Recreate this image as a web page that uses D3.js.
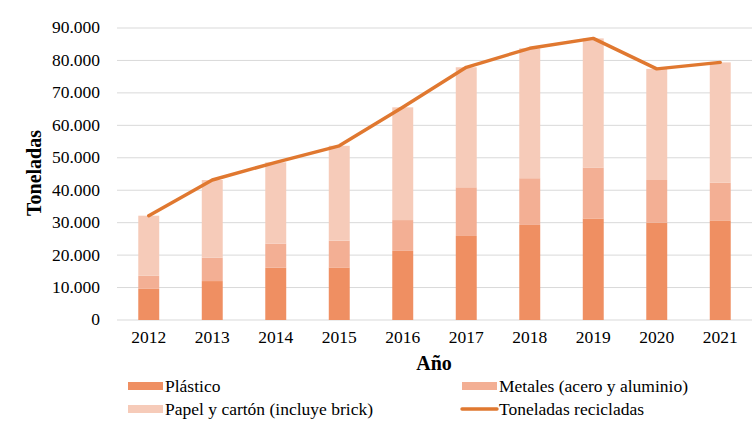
<!DOCTYPE html>
<html>
<head>
<meta charset="utf-8">
<script src="https://cdn.jsdelivr.net/npm/d3@7"></script>
<style>
  body { margin: 0; background: #fff; }
</style>
</head>
<body>
<div id="chart"></div>
<script>
const years = ["2012", "2013", "2014", "2015", "2016", "2017", "2018", "2019", "2020", "2021"];
const plastico = [9600, 12000, 16100, 16200, 21300, 25900, 29300, 31300, 30000, 30700];
const metales = [4050, 7200, 7400, 8250, 9500, 15000, 14400, 15700, 13150, 11600];
const papel = [18500, 23950, 25100, 29250, 34750, 37000, 40050, 39800, 34250, 37100];
const recicladas = [32150, 43150, 48600, 53700, 65550, 77900, 83750, 86800, 77400, 79400];
const yTicks = [0, 10000, 20000, 30000, 40000, 50000, 60000, 70000, 80000, 90000];

const series = [
  { name: "Plástico", values: plastico, color: "#EF8F62" },
  { name: "Metales (acero y aluminio)", values: metales, color: "#F3AF94" },
  { name: "Papel y cartón (incluye brick)", values: papel, color: "#F6CBB9" }
];
const lineColor = "#E07830";
const FONT = "'Liberation Serif', 'Times New Roman', serif";

const svgWidth = 754, svgHeight = 433;
const chartMargin = { top: 28, right: 2, bottom: 113, left: 117 };
const chartWidth = svgWidth - chartMargin.left - chartMargin.right;
const chartHeight = svgHeight - chartMargin.top - chartMargin.bottom;

const svg = d3.select("#chart").append("svg")
  .attr("width", svgWidth).attr("height", svgHeight);
const g = svg.append("g")
  .attr("transform", `translate(${chartMargin.left},${chartMargin.top})`);

const locale = d3.formatLocale({ decimal: ",", thousands: ".", grouping: [3], currency: ["", ""] });
const fmt = locale.format(",d");

const x = d3.scaleBand().domain(years).range([0, chartWidth]).paddingInner(0.67).paddingOuter(0.335);
const y = d3.scaleLinear().domain([0, 90000]).range([chartHeight, 0]);

// grid
g.append("g").selectAll("line").data(yTicks).enter().append("line")
  .attr("x1", 0).attr("x2", chartWidth)
  .attr("y1", d => y(d)).attr("y2", d => y(d))
  .attr("stroke", "#d9d9d9").attr("stroke-width", 1);

// y axis labels
const yAxis = g.append("g")
  .call(d3.axisLeft(y).tickValues(yTicks).tickFormat(d => fmt(d)).tickSize(0).tickPadding(17));
yAxis.select(".domain").remove();
yAxis.selectAll("text").attr("dy", "0.28em")
  .style("font-size", "17.5px").style("font-family", FONT).style("fill", "#000");

// x axis labels
const xAxis = g.append("g").attr("transform", `translate(0,${chartHeight})`)
  .call(d3.axisBottom(x).tickSize(0).tickPadding(11));
xAxis.select(".domain").remove();
xAxis.selectAll("text").style("font-size", "17.5px").style("font-family", FONT).style("fill", "#000");

// stacked bars
const stackData = years.map((yr, i) => {
  const o = { year: yr };
  series.forEach(s => { o[s.name] = s.values[i]; });
  return o;
});
const stacked = d3.stack().keys(series.map(s => s.name))(stackData);
g.append("g").selectAll("g").data(stacked).enter().append("g")
  .attr("fill", (d, i) => series[i].color)
  .selectAll("rect").data(d => d).enter().append("rect")
  .attr("x", d => x(d.data.year))
  .attr("width", x.bandwidth())
  .attr("y", d => y(d[1]))
  .attr("height", d => y(d[0]) - y(d[1]));

// line
const line = d3.line()
  .x((d, i) => x(years[i]) + x.bandwidth() / 2)
  .y(d => y(d));
g.append("path").datum(recicladas)
  .attr("d", line)
  .attr("fill", "none")
  .attr("stroke", lineColor)
  .attr("stroke-width", 3.4)
  .attr("stroke-linejoin", "round")
  .attr("stroke-linecap", "round");

// axis titles
svg.append("text")
  .attr("transform", "translate(41,173) rotate(-90)")
  .attr("text-anchor", "middle")
  .style("font-family", FONT)
  .style("font-size", "20px").style("font-weight", "bold")
  .text("Toneladas");
svg.append("text")
  .attr("x", 434).attr("y", 370)
  .attr("text-anchor", "middle")
  .style("font-family", FONT)
  .style("font-size", "20px").style("font-weight", "bold")
  .text("Año");

// legend
const legendItems = [
  { name: series[0].name, color: series[0].color, type: "rect", x: 128, y: 386 },
  { name: series[1].name, color: series[1].color, type: "rect", x: 462, y: 386 },
  { name: series[2].name, color: series[2].color, type: "rect", x: 128, y: 409 },
  { name: "Toneladas recicladas", color: lineColor, type: "line", x: 462, y: 409 }
];
const legend = svg.append("g");
legendItems.forEach(it => {
  if (it.type === "rect") {
    legend.append("rect").attr("x", it.x).attr("y", it.y - 4)
      .attr("width", 35).attr("height", 8).attr("fill", it.color);
  } else {
    legend.append("line").attr("x1", it.x).attr("x2", it.x + 35)
      .attr("y1", it.y).attr("y2", it.y)
      .attr("stroke", it.color).attr("stroke-width", 3.4)
      .attr("stroke-linecap", "round");
  }
  legend.append("text").attr("x", it.x + 37).attr("y", it.y)
    .attr("dy", "0.34em")
    .style("font-family", FONT)
    .style("font-size", "17.5px")
    .text(it.name);
});
</script>
</body>
</html>
